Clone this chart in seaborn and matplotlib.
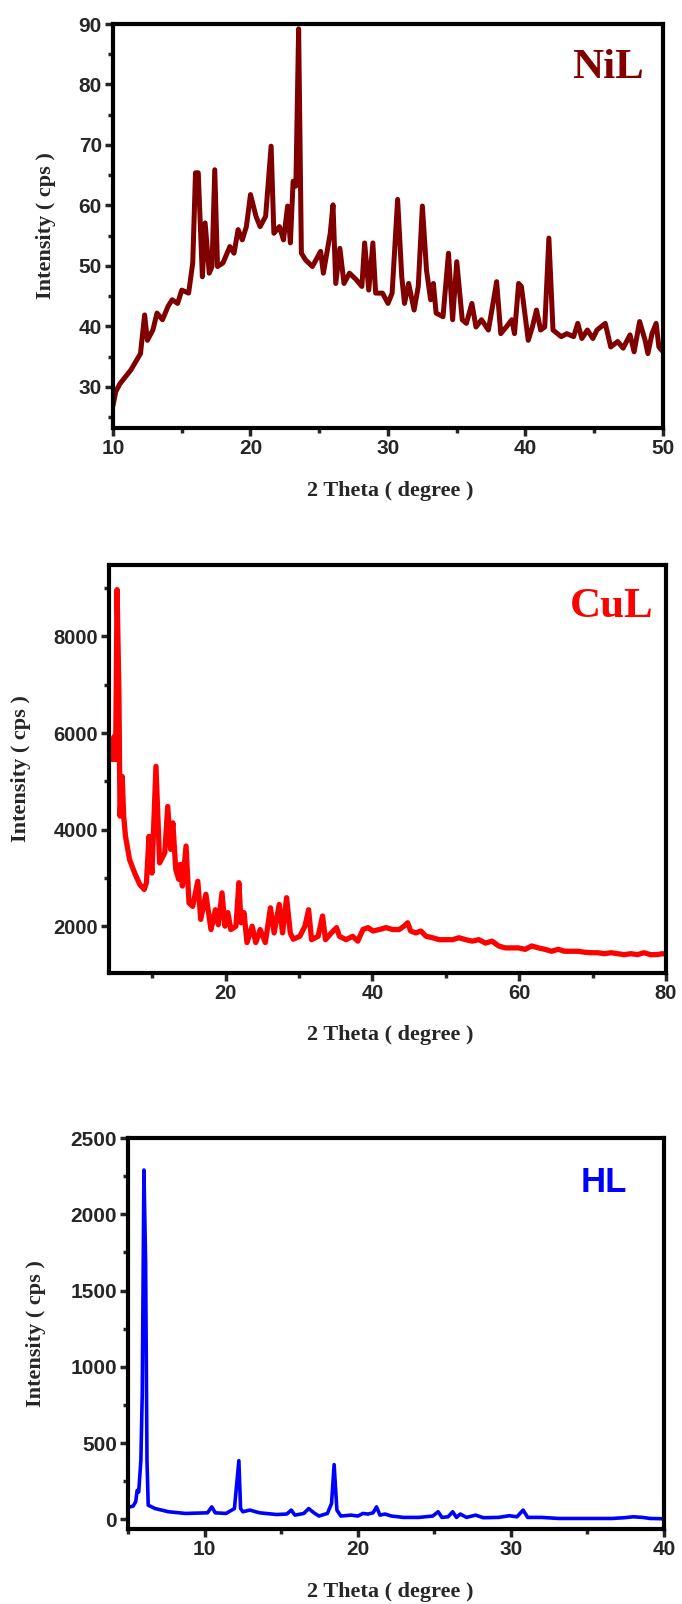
import matplotlib
matplotlib.use("Agg")
import matplotlib.pyplot as plt
import seaborn as sns
from matplotlib.ticker import MultipleLocator
from matplotlib import font_manager

# ---- NiL ----
nil_theta = [10.0, 10.2, 10.5, 11.3, 12.0, 12.1, 12.3, 12.5, 12.9, 13.2, 13.6, 14.0, 14.3, 14.7,
             15.0, 15.5, 15.8, 16.0, 16.2, 16.5, 16.7, 17.0, 17.2, 17.4, 17.6, 18.0, 18.5, 18.8,
             19.1, 19.4, 19.7, 20.0, 20.4, 20.7, 21.1, 21.5, 21.7, 22.1, 22.4, 22.7, 22.9, 23.1,
             23.3, 23.5, 23.7, 24.0, 24.5, 25.1, 25.3, 25.8, 26.0, 26.2, 26.5, 26.8, 27.2, 27.7,
             28.1, 28.3, 28.6, 28.9, 29.1, 29.6, 30.0, 30.3, 30.7, 31.0, 31.2, 31.5, 31.9, 32.2,
             32.5, 32.8, 33.1, 33.3, 33.5, 34.0, 34.4, 34.7, 35.0, 35.4, 35.7, 36.1, 36.4, 36.8,
             37.3, 37.6, 37.9, 38.2, 38.6, 39.0, 39.2, 39.5, 39.7, 40.2, 40.5, 40.8, 41.1, 41.4,
             41.7, 42.0, 42.6, 43.0, 43.5, 43.8, 44.1, 44.5, 44.9, 45.2, 45.8, 46.2, 46.7, 47.1,
             47.6, 47.9, 48.3, 48.7, 48.9, 49.2, 49.5, 49.7, 50.0]
nil_int = [26.9, 29.2, 30.5, 32.8, 35.5, 37.7, 41.9, 37.7, 39.4, 42.2, 41.1, 43.3, 44.4, 43.8,
           46.0, 45.5, 50.5, 65.4, 65.4, 48.2, 57.1, 48.8, 49.9, 65.9, 49.9, 50.5, 53.2, 52.1,
           56.0, 54.3, 56.5, 61.8, 58.2, 56.5, 58.2, 69.8, 55.4, 56.5, 54.3, 59.9, 53.8, 64.0,
           63.2, 89.2, 52.1, 51.0, 49.9, 52.4, 48.8, 55.4, 60.1, 47.1, 52.9, 47.1, 48.8, 47.7,
           46.6, 53.8, 46.0, 53.8, 45.5, 45.5, 43.8, 45.5, 61.0, 48.2, 43.8, 47.1, 42.7, 46.6,
           59.9, 49.3, 44.4, 47.1, 42.2, 41.6, 52.1, 41.1, 50.7, 41.1, 40.5, 43.8, 39.9, 41.1,
           39.4, 43.3, 47.4, 38.8, 39.9, 41.1, 38.8, 47.1, 46.6, 37.7, 39.9, 42.7, 39.4, 39.9,
           54.6, 39.4, 38.3, 38.8, 38.3, 40.5, 38.0, 39.4, 38.0, 39.4, 40.5, 36.6, 37.5, 36.4,
           38.6, 35.8, 40.8, 37.7, 35.5, 38.8, 40.5, 36.6, 35.8]

# ---- CuL ----
cul_theta = [4.55, 4.8, 5.0, 5.2, 5.45, 5.6, 5.9, 6.1, 6.35, 6.9, 7.6, 8.3, 8.9, 9.2, 9.55, 9.95,
             10.5, 11.0, 11.7, 12.1, 12.5, 12.8, 13.2, 13.6, 13.8, 14.1, 14.6, 15.0, 15.5, 16.2,
             16.6, 17.3, 18.0, 18.6, 19.0, 19.5, 19.9, 20.3, 20.7, 21.4, 21.8, 22.1, 22.5, 22.9,
             23.6, 24.1, 24.7, 25.4, 26.1, 26.6, 27.3, 27.75, 28.3, 28.8, 29.2, 30.1, 30.8, 31.3,
             31.7, 32.6, 33.2, 33.6, 34.4, 35.1, 35.5, 36.4, 37.3, 38.0, 38.7, 39.4, 40.05, 40.95,
             41.85, 42.75, 43.65, 44.3, 44.8, 45.2, 45.9, 46.6, 47.3, 48.2, 49.1, 50.0, 50.9, 51.8,
             52.7, 53.6, 54.5, 55.4, 56.3, 57.2, 58.1, 59.0, 59.9, 60.8, 61.7, 62.6, 63.5, 64.4,
             65.3, 66.2, 67.1, 68.0, 68.9, 69.8, 70.7, 71.6, 72.5, 73.4, 74.3, 75.2, 76.1, 77.0,
             77.9, 78.8, 79.5, 80.0]
cul_int = [5450, 5930, 5450, 8970, 6830, 4280, 5100, 4280, 3860, 3380, 3100, 2860, 2760, 2900,
           3860, 3100, 5310, 3310, 3520, 4480, 3590, 4140, 3170, 2970, 3280, 2830, 3660, 2480,
           2410, 2930, 2140, 2660, 1930, 2340, 2030, 2690, 2000, 2280, 1930, 2000, 2900, 2070,
           2280, 1660, 2000, 1660, 1930, 1660, 2380, 1860, 2450, 1860, 2590, 1860, 1730, 1790,
           2000, 2340, 1720, 1790, 2210, 1720, 1860, 1970, 1790, 1720, 1790, 1690, 1930, 1970,
           1900, 1930, 1970, 1930, 1930, 2000, 2070, 1900, 1860, 1900, 1790, 1760, 1720, 1720,
           1720, 1760, 1720, 1690, 1720, 1650, 1690, 1590, 1550, 1550, 1550, 1520, 1590, 1550,
           1520, 1480, 1520, 1480, 1480, 1480, 1460, 1450, 1450, 1430, 1450, 1430, 1410, 1430,
           1410, 1450, 1410, 1410, 1430, 1420]

# ---- HL ----
hl_theta = [5.0, 5.33, 5.5, 5.6, 5.7, 5.84, 5.93, 6.04, 6.15, 6.24, 6.32, 6.77, 7.65, 8.75,
            10.19, 10.47, 10.7, 11.4, 11.95, 12.24, 12.35, 12.5, 12.95, 13.6, 14.7, 15.37, 15.66,
            15.9, 16.48, 16.8, 17.14, 17.47, 18.02, 18.29, 18.46, 18.64, 18.9, 19.57, 20.01,
            20.34, 20.67, 21.0, 21.23, 21.45, 21.78, 22.2, 23.0, 24.0, 24.9, 25.25, 25.5, 25.9,
            26.2, 26.45, 26.7, 27.1, 27.7, 28.2, 29.2, 29.9, 30.4, 30.8, 31.1, 32.0, 33.15, 34.3,
            35.4, 36.6, 37.4, 38.0, 38.6, 39.1, 40.0]
hl_int = [78, 87, 115, 190, 180, 385, 818, 2290, 1684, 385, 93, 71, 50, 39,
          43, 82, 43, 39, 71, 385, 71, 50, 61, 43, 32, 35, 61,
          28, 39, 71, 43, 22, 39, 104, 359, 61, 22, 28, 22,
          39, 35, 43, 82, 28, 35, 22, 13, 13, 22, 50, 13, 17,
          50, 13, 35, 13, 28, 11, 13, 24, 17, 61, 13, 13, 6, 6,
          6, 6, 11, 17, 13, 6, 4]

sns.set_style("ticks")
# police étroite si dispo, sinon Liberation Sans
names = {f.name for f in font_manager.fontManager.ttflist}
tick_family = "Liberation Sans Narrow" if "Liberation Sans Narrow" in names else "Liberation Sans"
plt.rcParams["font.family"] = [tick_family, "DejaVu Sans"]
plt.rcParams["font.weight"] = "bold"

fig = plt.figure(figsize=(6.82, 16.04), dpi=100)
W, H = 682, 1604

def make_axes(left, right, top, bottom):
    return fig.add_axes([left / W, 1 - bottom / H, (right - left) / W, (bottom - top) / H])

serif = ["Liberation Serif", "DejaVu Serif"]
sans = ["Liberation Sans", "DejaVu Sans"]

panels = [
    dict(ax=make_axes(113, 663, 24, 428), x=nil_theta, y=nil_int, color="#800000", lw=3.6,
         xlim=(10, 50), ylim=(23.2, 90), xmaj=10, xmin=5, ymaj=10, ymin=5, tick_fs=15,
         title="NiL", tfam=serif, tfs=31, tx=0.965, ty=0.867, lab_y=491, ylab_x=46),
    dict(ax=make_axes(109, 666, 565, 973), x=cul_theta, y=cul_int, color="#ff0000", lw=3.8,
         xlim=(4.1, 80), ylim=(1030, 9480), xmaj=20, xmin=10, ymaj=2000, ymin=1000, tick_fs=14.5,
         title="CuL", tfam=serif, tfs=31, tx=0.978, ty=0.873, lab_y=1035, ylab_x=21),
    dict(ax=make_axes(128, 664, 1138, 1529), x=hl_theta, y=hl_int, color="#0000ff", lw=2.6,
         xlim=(5, 40), ylim=(-63, 2500), xmaj=10, xmin=5, ymaj=500, ymin=250, tick_fs=15,
         title="HL", tfam=sans, tfs=25, tx=0.931, ty=0.862, lab_y=1592, ylab_x=36),
]

for p in panels:
    ax = p["ax"]
    sns.lineplot(x=p["x"], y=p["y"], ax=ax, color=p["color"], linewidth=p["lw"],
                 estimator=None, sort=False)
    ax.set_xlim(*p["xlim"])
    ax.set_ylim(*p["ylim"])
    ax.xaxis.set_major_locator(MultipleLocator(p["xmaj"]))
    ax.xaxis.set_minor_locator(MultipleLocator(p["xmin"]))
    ax.yaxis.set_major_locator(MultipleLocator(p["ymaj"]))
    ax.yaxis.set_minor_locator(MultipleLocator(p["ymin"]))
    for s in ax.spines.values():
        s.set_linewidth(3.0)
        s.set_color("black")
        s.set_visible(True)
    ax.tick_params(which="major", direction="out", length=6, width=2.5,
                   labelsize=p["tick_fs"], pad=2, top=False, right=False)
    ax.tick_params(which="minor", direction="out", length=3.5, width=2.5,
                   top=False, right=False)
    for lbl in ax.get_xticklabels() + ax.get_yticklabels():
        lbl.set_fontweight("bold")
        lbl.set_family([tick_family, "DejaVu Sans"])
    ax.set_xlabel("")
    ax.set_ylabel("")
    ax.text(p["tx"], p["ty"], p["title"], transform=ax.transAxes, ha="right", va="baseline",
            color=p["color"], fontsize=p["tfs"], fontweight="bold", family=p["tfam"])
    fig.text(390 / W, 1 - p["lab_y"] / H, "2 Theta ( degree )", ha="center", va="center",
             fontsize=16, fontweight="bold", family=serif)
    pos = ax.get_position()
    fig.text(p["ylab_x"] / W, (pos.y0 + pos.y1) / 2, "Intensity ( cps )", rotation=90,
             ha="center", va="center", fontsize=16, fontweight="bold", family=serif)

fig.savefig("out.png", dpi=100, facecolor="white")
